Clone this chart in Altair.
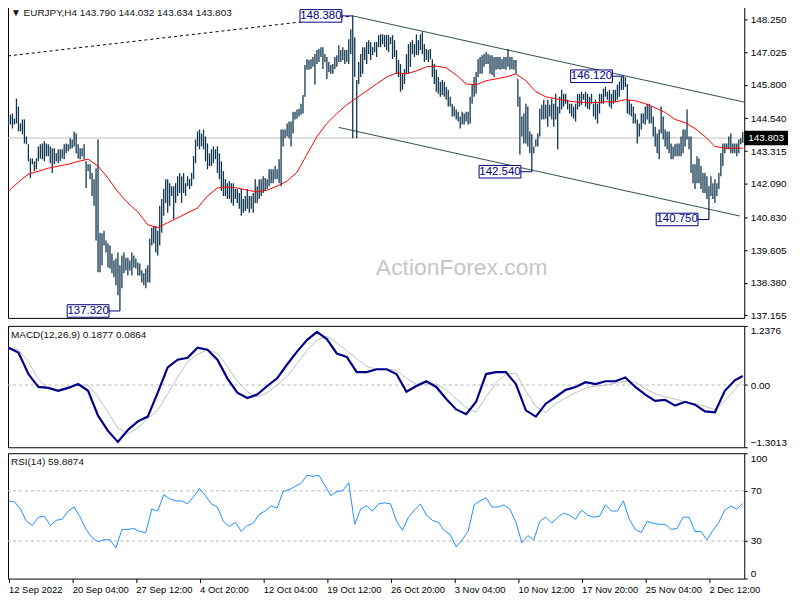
import altair as alt
import pandas as pd

# ---------------- data ----------------
HIGH = [
    144.61, 144.68, 144.72, 144.53, 145.28, 144.98, 144.35, 144.50, 144.50, 143.86,
    143.57, 143.04, 143.04, 142.93, 143.04, 143.49, 143.57, 143.60, 143.68, 143.60,
    143.57, 143.49, 143.42, 143.42, 143.23, 143.38, 143.38, 143.38, 143.57, 143.60,
    143.57, 143.79, 143.75, 144.05, 143.97, 143.57, 143.42, 143.42, 143.57, 142.93,
    142.82, 142.82, 142.49, 142.26, 142.67, 143.75, 140.25, 140.22, 140.33, 139.96,
    139.85, 139.77, 139.47, 139.21, 139.29, 139.51, 139.03, 139.40, 139.51, 139.32,
    139.32, 139.21, 139.51, 139.40, 139.29, 139.14, 139.10, 138.84, 138.73, 138.91,
    139.03, 140.03, 140.44, 140.51, 140.51, 140.33, 141.26, 141.52, 141.89, 142.26,
    142.26, 142.11, 142.00, 142.00, 142.11, 142.37, 142.49, 142.37, 142.49, 142.11,
    142.37, 142.26, 142.49, 143.12, 143.75, 144.05, 144.12, 143.97, 144.12, 143.86,
    143.60, 143.23, 143.38, 143.49, 143.38, 143.49, 143.23, 142.93, 142.56, 142.26,
    142.11, 142.19, 142.11, 142.11, 141.89, 141.89, 141.74, 141.89, 141.52, 141.63,
    141.89, 141.63, 141.63, 141.74, 142.26, 142.00, 142.26, 142.26, 142.37, 142.30,
    142.26, 142.63, 142.63, 142.63, 142.75, 142.63, 143.01, 144.12, 144.12, 144.12,
    144.35, 144.42, 144.42, 144.79, 144.79, 144.87, 144.90, 145.09, 145.42, 146.54,
    146.76, 146.73, 146.76, 146.84, 146.95, 147.10, 147.14, 147.21, 147.21, 146.95,
    146.84, 146.65, 146.54, 146.58, 146.84, 146.91, 147.28, 147.10, 147.21, 147.10,
    147.10, 147.51, 147.88, 148.38, 147.58, 145.98, 146.65, 146.95, 147.21, 147.21,
    147.40, 147.47, 147.40, 147.21, 147.40, 147.40, 147.66, 147.69, 147.69, 147.66,
    147.66, 147.66, 147.58, 147.66, 147.47, 147.10, 146.73, 146.58, 146.21, 146.39,
    146.95, 147.32, 147.40, 147.47, 147.32, 147.69, 147.47, 147.69, 147.77, 147.32,
    147.14, 147.10, 147.14, 146.76, 146.58, 146.36, 146.09, 145.91, 145.98, 145.91,
    145.72, 145.61, 145.35, 145.09, 144.98, 144.87, 144.79, 144.61, 144.79, 144.72,
    144.79, 144.79, 145.35, 145.83, 146.09, 146.28, 146.76, 146.84, 146.91, 146.95,
    147.02, 146.95, 146.91, 146.91, 146.84, 146.84, 146.84, 146.84, 146.76, 146.84,
    146.84, 147.14, 146.84, 146.84, 146.73, 146.73, 146.02, 145.35, 144.61, 144.72,
    145.09, 144.98, 144.05, 143.94, 143.49, 143.75, 143.97, 144.90, 145.05, 145.24,
    145.05, 145.24, 145.05, 145.28, 145.09, 145.46, 144.98, 145.35, 145.61, 145.46,
    145.46, 145.24, 145.09, 145.09, 144.98, 145.09, 145.46, 145.46, 145.54, 145.46,
    145.54, 145.46, 145.35, 145.46, 145.09, 145.24, 145.09, 145.46, 145.46, 145.65,
    145.72, 145.54, 145.61, 145.46, 145.61, 145.61, 145.80, 145.91, 146.09, 146.12,
    146.09, 145.83, 145.24, 145.09, 144.98, 144.72, 144.50, 144.35, 144.72, 144.72,
    144.98, 145.09, 145.09, 144.98, 144.61, 144.23, 143.97, 144.12, 144.98, 144.61,
    144.12, 144.05, 144.05, 143.60, 143.49, 143.57, 143.60, 143.60, 143.86, 144.12,
    144.12, 144.87, 143.86, 143.86, 142.82, 142.82, 143.12, 143.04, 142.75, 142.49,
    142.49, 142.37, 142.00, 142.37, 142.11, 142.26, 142.11, 142.49, 143.23, 143.60,
    143.60, 143.60, 143.86, 143.97, 143.60, 143.60, 143.60, 143.75, 143.79, 144.03,
]
LOW = [
    144.23, 144.31, 144.16, 144.31, 144.35, 144.05, 144.05, 143.94, 143.60, 143.57,
    142.93, 142.30, 142.82, 142.56, 142.63, 142.93, 143.04, 143.01, 142.93, 143.12,
    143.12, 142.86, 142.49, 142.82, 142.93, 142.86, 142.93, 143.04, 143.01, 143.23,
    143.31, 143.38, 143.42, 143.49, 143.23, 143.04, 143.01, 143.12, 143.01, 141.93,
    142.56, 142.26, 141.63, 141.26, 139.96, 138.77, 138.77, 139.03, 139.77, 139.51,
    138.95, 138.91, 138.73, 138.58, 138.28, 137.91, 137.32, 138.17, 138.73, 138.84,
    138.65, 138.84, 138.65, 138.95, 138.91, 138.65, 138.65, 138.39, 138.28, 138.17,
    138.39, 138.39, 139.77, 139.85, 139.51, 139.40, 139.77, 140.25, 140.89, 141.37,
    141.00, 141.26, 141.63, 140.77, 141.37, 141.63, 141.74, 141.37, 141.74, 141.63,
    142.00, 141.89, 142.00, 142.26, 142.86, 143.49, 143.38, 143.49, 143.38, 142.93,
    142.63, 142.75, 142.75, 142.86, 143.01, 142.49, 142.26, 141.82, 141.63, 141.63,
    141.52, 141.52, 141.37, 141.26, 141.52, 141.37, 141.15, 140.89, 141.00, 141.07,
    141.15, 141.00, 141.15, 141.00, 141.37, 141.37, 141.52, 141.63, 141.74, 141.82,
    141.89, 142.00, 142.11, 142.11, 142.26, 142.26, 142.11, 142.00, 143.49, 143.79,
    143.86, 143.79, 143.49, 143.97, 144.50, 144.53, 144.61, 144.68, 144.72, 145.35,
    146.36, 146.36, 146.39, 146.47, 145.80, 146.58, 146.65, 146.84, 146.39, 146.65,
    146.02, 146.28, 146.21, 146.21, 146.39, 146.47, 146.65, 146.65, 146.73, 146.58,
    146.65, 146.58, 146.95, 143.79, 146.09, 143.79, 145.83, 146.09, 146.21, 146.73,
    146.58, 146.95, 146.73, 146.91, 147.02, 146.84, 147.21, 147.21, 147.32, 147.21,
    147.10, 147.02, 147.32, 146.76, 146.84, 146.21, 146.09, 145.54, 145.61, 145.83,
    146.21, 146.21, 146.47, 146.95, 146.84, 146.91, 146.91, 147.10, 146.95, 146.65,
    146.73, 146.65, 146.76, 146.09, 145.83, 145.54, 145.46, 145.35, 145.42, 145.35,
    145.24, 144.98, 144.98, 144.61, 144.61, 144.50, 144.42, 144.16, 144.31, 144.31,
    144.42, 144.31, 144.35, 145.09, 145.35, 145.46, 146.09, 146.21, 146.21, 146.47,
    146.58, 146.58, 146.21, 146.17, 146.09, 146.36, 146.39, 146.36, 146.39, 146.39,
    146.36, 146.47, 146.36, 146.39, 146.36, 146.21, 144.98, 143.19, 143.86, 143.60,
    143.60, 143.49, 143.23, 142.54, 143.23, 143.49, 143.49, 143.86, 144.50, 144.50,
    144.53, 144.23, 144.61, 144.50, 144.23, 144.50, 143.38, 144.72, 144.87, 144.98,
    145.09, 144.87, 144.72, 144.61, 144.53, 144.42, 144.87, 144.98, 145.05, 145.24,
    144.98, 144.90, 144.87, 145.09, 144.61, 144.50, 144.35, 144.72, 145.09, 145.09,
    145.35, 145.24, 144.98, 144.90, 145.09, 145.16, 145.24, 145.35, 145.61, 145.61,
    145.72, 144.72, 144.68, 144.61, 144.35, 144.35, 143.60, 143.86, 144.12, 144.35,
    144.31, 144.50, 144.35, 144.35, 143.86, 143.49, 143.23, 143.01, 143.97, 143.75,
    143.49, 143.38, 143.23, 143.01, 143.01, 143.12, 143.12, 143.12, 143.12, 143.23,
    143.49, 143.75, 143.38, 142.49, 142.11, 141.89, 142.11, 142.11, 141.89, 141.74,
    141.74, 141.52, 140.75, 141.63, 141.52, 141.37, 141.63, 141.89, 142.37, 142.75,
    143.23, 143.38, 143.38, 143.23, 143.23, 143.23, 143.12, 143.23, 143.57, 143.63,
]

# moving average, MACD and signal read every 5 bars (plus the last bar)
IND_IDX = list(range(0, 366, 5)) + [369]
MA = [
    141.82, 142.15, 142.45, 142.56, 142.67, 142.75, 142.82, 142.93, 143.01, 142.75,
    142.30, 141.78, 141.37, 141.03, 140.55, 140.44, 140.63, 140.81, 141.00, 141.18,
    141.63, 141.93, 141.97, 141.93, 141.85, 141.78, 141.85, 142.00, 142.19, 142.52,
    143.19, 143.86, 144.35, 144.72, 145.05, 145.31, 145.57, 145.83, 146.09, 146.24,
    146.21, 146.32, 146.47, 146.50, 146.43, 146.17, 145.83, 145.80, 145.95, 146.02,
    146.09, 146.21, 145.95, 145.54, 145.35, 145.28, 145.20, 145.16, 145.13, 145.13,
    145.16, 145.16, 145.24, 145.20, 145.09, 144.94, 144.76, 144.50, 144.38, 144.16,
    143.86, 143.49, 143.42, 143.42, 143.42,
]
MACD = [
    0.78, 0.68, 0.23, -0.04, -0.06, -0.12, -0.06, 0.02, -0.12, -0.64,
    -0.96, -1.19, -0.94, -0.76, -0.66, -0.16, 0.37, 0.53, 0.57, 0.78,
    0.74, 0.53, 0.14, -0.16, -0.27, -0.20, -0.02, 0.14, 0.43, 0.70,
    0.94, 1.11, 0.96, 0.66, 0.59, 0.27, 0.27, 0.33, 0.33, 0.23,
    -0.14, -0.02, 0.08, -0.04, -0.29, -0.51, -0.61, -0.35, 0.23, 0.27,
    0.27, 0.02, -0.53, -0.66, -0.39, -0.25, -0.10, -0.04, 0.06, 0.02,
    0.08, 0.08, 0.16, -0.04, -0.20, -0.33, -0.31, -0.43, -0.35, -0.41,
    -0.55, -0.57, -0.12, 0.10, 0.19,
]
SIGNAL = [
    0.78, 0.74, 0.49, 0.12, -0.08, -0.10, -0.04, 0.00, 0.00, -0.25,
    -0.57, -0.90, -1.02, -0.90, -0.70, -0.53, -0.18, 0.16, 0.49, 0.64,
    0.74, 0.66, 0.39, 0.08, -0.14, -0.25, -0.16, 0.00, 0.18, 0.45,
    0.72, 0.94, 1.02, 0.88, 0.72, 0.55, 0.39, 0.33, 0.33, 0.31,
    0.14, 0.02, 0.02, 0.02, -0.10, -0.29, -0.47, -0.57, -0.25, 0.04,
    0.23, 0.25, -0.12, -0.45, -0.57, -0.39, -0.27, -0.16, -0.06, -0.02,
    0.00, 0.04, 0.08, 0.06, -0.08, -0.18, -0.25, -0.29, -0.35, -0.39,
    -0.45, -0.51, -0.33, -0.10, 0.09,
]
# RSI read every 3 bars
RSI_IDX = list(range(0, 370, 3))
RSI = [
    62.0, 61.2, 55.5, 45.7, 42.4, 49.0, 49.8, 42.4, 46.5, 47.3,
    53.9, 57.1, 49.0, 39.2, 32.7, 29.4, 31.0, 31.0, 24.5, 39.2,
    39.2, 40.0, 37.6, 36.7, 55.5, 53.9, 66.9, 63.7, 62.0, 62.0,
    59.6, 65.3, 71.8, 66.1, 59.6, 57.1, 45.7, 41.6, 44.9, 37.6,
    42.4, 44.1, 51.4, 53.9, 58.0, 56.3, 69.4, 71.0, 73.5, 75.9,
    82.4, 81.6, 82.4, 74.3, 66.1, 69.4, 70.2, 76.5, 43.3, 55.5,
    58.0, 53.9, 59.6, 60.4, 59.6, 45.7, 38.4, 49.0, 54.7, 59.6,
    50.6, 46.5, 44.9, 38.4, 35.1, 25.3, 31.0, 37.6, 58.8, 62.0,
    64.5, 57.1, 57.1, 58.8, 55.5, 44.9, 28.6, 34.3, 31.0, 45.7,
    49.0, 44.1, 49.0, 52.2, 50.6, 47.3, 54.7, 50.6, 49.0, 49.8,
    58.8, 53.9, 53.9, 62.0, 47.3, 39.2, 36.7, 45.7, 44.1, 43.3,
    43.3, 39.2, 40.0, 49.0, 49.0, 37.6, 37.6, 31.0, 38.4, 44.9,
    54.7, 58.0, 55.5, 59.9,
]

X_TICKS = [0, 32, 64, 96, 128, 160, 192, 224, 256, 288, 320, 352]
X_LABELS = ["12 Sep 2022", "20 Sep 04:00", "27 Sep 12:00", "4 Oct 20:00",
            "12 Oct 04:00", "19 Oct 12:00", "26 Oct 20:00", "3 Nov 04:00",
            "10 Nov 12:00", "17 Nov 20:00", "25 Nov 04:00", "2 Dec 12:00"]
PRICE_TICKS = [137.155, 138.380, 139.605, 140.830, 142.090, 143.315,
               144.540, 145.800, 147.025, 148.250]
MACD_TICKS = [-1.3013, 0.0, 1.2376]
RSI_TICKS = [0, 30, 70, 100]
RSI_LEVELS = [30, 70]

LABEL_IDX = [173, 309, 263, 352, 56]
LABEL_PRICE = [148.38, 146.12, 142.54, 140.75, 137.32]
LABEL_TEXT = ["148.380", "146.120", "142.540", "140.750", "137.320"]

CHANNEL_NAME = ["upper", "upper", "lower", "lower"]
CHANNEL_IDX = [173, 369.75, 166, 367.5]
CHANNEL_PRICE = [148.38, 145.15, 144.20, 140.88]
TREND_IDX = [-0.25, 173]
TREND_PRICE = [146.88, 148.38]

LAST_PRICE = [143.803]
LAST_TEXT = ["143.803"]
TITLE_PRICE = ["\u25bc EURJPY,H4  143.790 144.032 143.634 143.803"]
TITLE_MACD = ["MACD(12,26,9) 0.1877 0.0864"]
TITLE_RSI = ["RSI(14) 59.8874"]
WATERMARK = ["ActionForex.com"]

# ---------------- styling ----------------
W = 740
H_PRICE, H_MACD, H_RSI = 314, 122, 126
FONT = "Liberation Sans, Arial, sans-serif"
BAR_COLOR = "#103650"
NAVY = "#000080"
BOX_PATH = "M-1,-0.3L1,-0.3L1,0.3L-1,0.3Z"

xscale = alt.Scale(domain=[-0.25, 369.75], nice=False, zero=False)
pscale = alt.Scale(domain=[137.06, 148.77], nice=False, zero=False)
mscale = alt.Scale(domain=[-1.3013, 1.2376], nice=False, zero=False)
rscale = alt.Scale(domain=[0, 100], nice=False, zero=False)


def yaxis(values, fmt=None, expr=None, flush=False):
    kw = dict(orient="right", values=values, title=None, grid=False, domain=False,
              ticks=True, tickSize=3, tickColor="black", labelColor="black",
              labelFont=FONT, labelFontSize=10, labelPadding=3, labelFlush=flush,
              labelOverlap=False)
    if fmt:
        kw["format"] = fmt
    if expr:
        kw["labelExpr"] = expr
    return alt.Axis(**kw)


price_axis = yaxis(PRICE_TICKS, fmt=".3f")
macd_axis = yaxis(MACD_TICKS, expr="datum.value == 0 ? '0.00' : format(datum.value, '.4f')", flush=True)
rsi_axis = yaxis(RSI_TICKS, flush=True)

label_js = "[" + ",".join("'%s'" % s for s in X_LABELS) + "][round(datum.value / 32)]"
x_axis = alt.Axis(values=X_TICKS, labelExpr=label_js, title=None, grid=False, domain=False,
                  ticks=True, tickSize=4, tickColor="black", labelAlign="left",
                  labelPadding=2, labelFont=FONT, labelFontSize=9.5, labelColor="black",
                  labelOverlap=False, labelFlush=False, labelBound=False)

X = lambda field: alt.X(field, type="quantitative", scale=xscale, axis=None)
XR = lambda field: alt.X(field, type="quantitative", scale=xscale, axis=x_axis)
P = lambda field: alt.Y(field, type="quantitative", scale=pscale, axis=price_axis)

# ---------------- tables ----------------
bars = pd.DataFrame({"i": list(range(len(HIGH))), "high": HIGH, "low": LOW})
ind = pd.DataFrame({"i": IND_IDX, "ma": MA, "macd": MACD, "signal": SIGNAL})
rsi = pd.DataFrame({"i": RSI_IDX, "rsi": RSI})
labels = pd.DataFrame({"i": LABEL_IDX, "p": LABEL_PRICE, "t": LABEL_TEXT})
chan = pd.DataFrame({"name": CHANNEL_NAME, "i": CHANNEL_IDX, "p": CHANNEL_PRICE})
trend = pd.DataFrame({"i": TREND_IDX, "p": TREND_PRICE})
last = pd.DataFrame({"p": LAST_PRICE, "t": LAST_TEXT})

# ---------------- price panel ----------------
wm = alt.Chart(pd.DataFrame({"t": WATERMARK})).mark_text(
    font="Liberation Sans, Arial, sans-serif", fontSize=23, color="#c6c6c6"
).encode(x=alt.value(456), y=alt.value(264), text="t:N")

last_line = alt.Chart(last).mark_rule(color="#c0c0c0", strokeWidth=1).encode(y=P("p"))

trend_line = alt.Chart(trend).mark_line(color="black", strokeWidth=1, strokeDash=[3, 3]).encode(
    x=X("i"), y=P("p"))

chan_lines = alt.Chart(chan).mark_line(color="#2f4f4f", strokeWidth=1).encode(
    x=X("i"), y=P("p"), detail="name:N")

bar_rules = alt.Chart(bars).mark_rule(color=BAR_COLOR, strokeWidth=1.3).encode(
    x=X("i"), y=P("low"), y2="high:Q")

ma_line = alt.Chart(ind).mark_line(color="#ff0000", strokeWidth=1).encode(
    x=X("i"), y=P("ma"))

conn = alt.Chart(labels).mark_rule(color=NAVY, strokeWidth=1, xOffset=-11).encode(
    x=X("i"), x2="i:Q", y=P("p"))
boxes = alt.Chart(labels).mark_point(shape=BOX_PATH, size=42 * 42, filled=True, fill="white",
                                     stroke=NAVY, strokeWidth=1, opacity=1, xOffset=-32).encode(
    x=X("i"), y=P("p"))
box_text = alt.Chart(labels).mark_text(dx=-32, font=FONT, fontSize=11.5, color=NAVY).encode(
    x=X("i"), y=P("p"), text="t:N")

title_p = alt.Chart(pd.DataFrame({"t": TITLE_PRICE})).mark_text(
    align="left", baseline="middle", font=FONT, fontSize=10, color="#111111"
).encode(x=alt.value(3), y=alt.value(8), text="t:N")

last_box = alt.Chart(last).mark_point(shape=BOX_PATH, size=42 * 42, filled=True, fill="black",
                                      stroke="black", opacity=1).encode(
    x=alt.value(W + 22), y=P("p"))
last_text = alt.Chart(last).mark_text(font=FONT, fontSize=10, color="white").encode(
    x=alt.value(W + 22), y=P("p"), text="t:N")

price_panel = alt.layer(
    wm, last_line, trend_line, chan_lines, bar_rules, ma_line,
    conn, boxes, box_text, title_p, last_box, last_text
).properties(width=W, height=H_PRICE)

# ---------------- MACD panel ----------------
zero = alt.Chart(pd.DataFrame({"v": [0.0]})).mark_rule(
    color="#b4b4b4", strokeDash=[3, 3], strokeWidth=1
).encode(y=alt.Y("v:Q", scale=mscale, axis=macd_axis))
sig_line = alt.Chart(ind).mark_line(color="#c0c0c0", strokeWidth=1).encode(
    x=X("i"), y=alt.Y("signal:Q", scale=mscale, axis=macd_axis))
macd_line = alt.Chart(ind).mark_line(color="#00008b", strokeWidth=2.2).encode(
    x=X("i"), y=alt.Y("macd:Q", scale=mscale, axis=macd_axis))
title_m = alt.Chart(pd.DataFrame({"t": TITLE_MACD})).mark_text(
    align="left", baseline="middle", font=FONT, fontSize=10, color="#111111"
).encode(x=alt.value(3), y=alt.value(9), text="t:N")
macd_panel = alt.layer(zero, sig_line, macd_line, title_m).properties(width=W, height=H_MACD)

# ---------------- RSI panel ----------------
levels = alt.Chart(pd.DataFrame({"v": RSI_LEVELS})).mark_rule(
    color="#b4b4b4", strokeDash=[3, 3], strokeWidth=1
).encode(y=alt.Y("v:Q", scale=rscale, axis=rsi_axis))
rsi_line = alt.Chart(rsi).mark_line(color="#1e90ff", strokeWidth=1).encode(
    x=XR("i"), y=alt.Y("rsi:Q", scale=rscale, axis=rsi_axis))
title_r = alt.Chart(pd.DataFrame({"t": TITLE_RSI})).mark_text(
    align="left", baseline="middle", font=FONT, fontSize=10, color="#111111"
).encode(x=alt.value(3), y=alt.value(9), text="t:N")
rsi_panel = alt.layer(levels, rsi_line, title_r).properties(width=W, height=H_RSI)

chart = alt.vconcat(price_panel, macd_panel, rsi_panel, spacing=4).properties(
    padding={"left": -5, "top": -5, "right": 0, "bottom": 0}, background="white"
).configure_view(stroke="black", strokeWidth=1, fill="white")

chart.save("out.html", embed_options={"renderer": "svg", "actions": False})
